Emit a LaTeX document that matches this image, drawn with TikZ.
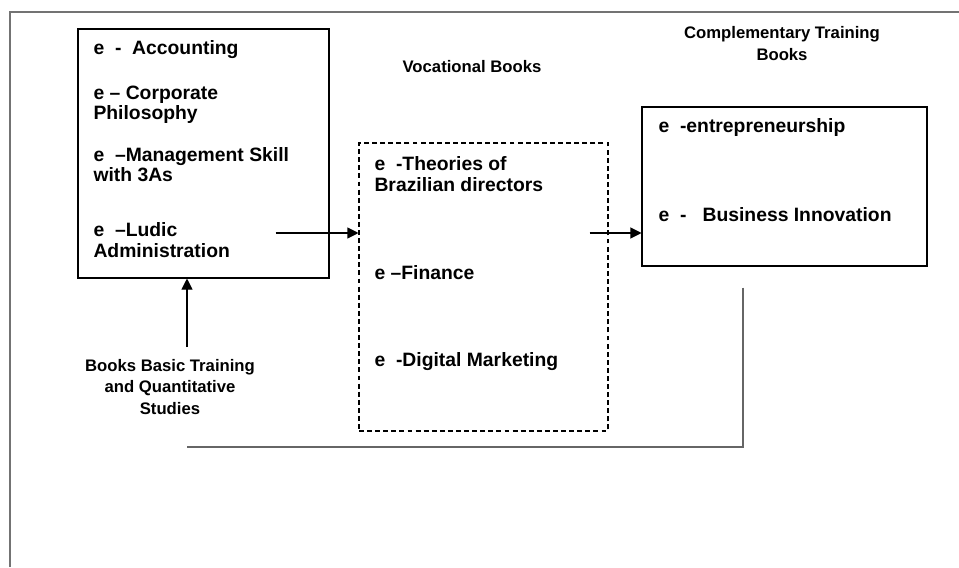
\documentclass[tikz,border=0pt]{standalone}
\usepackage{fontspec}
\setmainfont{Liberation Sans}
\usetikzlibrary{arrows.meta}

\tikzset{
  bookbox/.style={draw, line width=0.6pt, rectangle, inner sep=0pt},
  item/.style={anchor=west, align=left, inner sep=0pt, font=\fontsize{11}{11.5}\selectfont\bfseries},
  heading/.style={align=center, inner sep=0pt, font=\fontsize{9.5}{12.5}\selectfont\bfseries},
  feedback/.style={line width=0.8pt, black!60},
  frame/.style={line width=0.8pt, black!55}
}

\begin{document}
\begin{tikzpicture}[>={Triangle[length=2.2mm,width=2.2mm]}, line width=0.6pt]

        \useasboundingbox (0,0) rectangle (19.18,11.34);

        %outer frame
        \draw [frame] (0.2,0) -- (0.2,11.1) -- (19.18,11.1);

        %headings
        \node [heading] (voc) at (9.44,10.0) {Vocational Books};
        \node [heading] (compl) at (15.64,10.46) {Complementary Training\\Books};
        \node [heading] (basic) at (3.4,3.6) {Books Basic Training\\and Quantitative\\Studies};

        %basic training box
        \node [bookbox, minimum width=5.02cm, minimum height=4.98cm] (basicbox) at (4.07,8.27) {};
        \node [item] (acc) at (1.86,10.34) {e\ \ -\ \ Accounting};
        \node [item] (corp) at (1.86,9.24) {e -- Corporate\\Philosophy};
        \node [item] (mgmt) at (1.86,8.04) {e\ \ --Management Skill\\with 3As};
        \node [item] (ludic) at (1.86,6.54) {e\ \ --Ludic\\Administration};

        %vocational box (dashed)
        \node [bookbox, dash pattern=on 2.8pt off 1.8pt, minimum width=4.98cm, minimum height=5.76cm] (vocbox) at (9.67,5.6) {};
        \node [item] (theo) at (7.48,7.86) {e\ \ -Theories of\\Brazilian directors};
        \node [item] (fin) at (7.48,5.88) {e --Finance};
        \node [item] (dig) at (7.48,4.1) {e\ \ -Digital Marketing};

        %complementary box
        \node [bookbox, minimum width=5.7cm, minimum height=3.18cm] (complbox) at (15.69,7.61) {};
        \node [item] (entr) at (13.16,8.78) {e\ \ -entrepreneurship};
        \node [item] (innov) at (13.16,7.04) {e\ \ -\ \ \ Business Innovation};

        %connecting arrows between the boxes
        \coordinate (mid) at (0,6.68);
        \draw [->] ([xshift=-1.08cm]basicbox.east |- mid) -- (vocbox.west |- mid);
        \draw [->] ([xshift=-0.38cm]vocbox.east |- mid) -- (complbox.west |- mid);

        %basic books up to the first box
        \coordinate (up) at (3.74,4.4);
        \draw [->] (up) -- (up |- basicbox.south);

        %line back from complementary box
        \coordinate (fb) at (14.86,2.4);
        \draw [feedback] ([yshift=-0.42cm]fb |- complbox.south) -- (fb) -- (fb -| up);

\end{tikzpicture}
\end{document}
